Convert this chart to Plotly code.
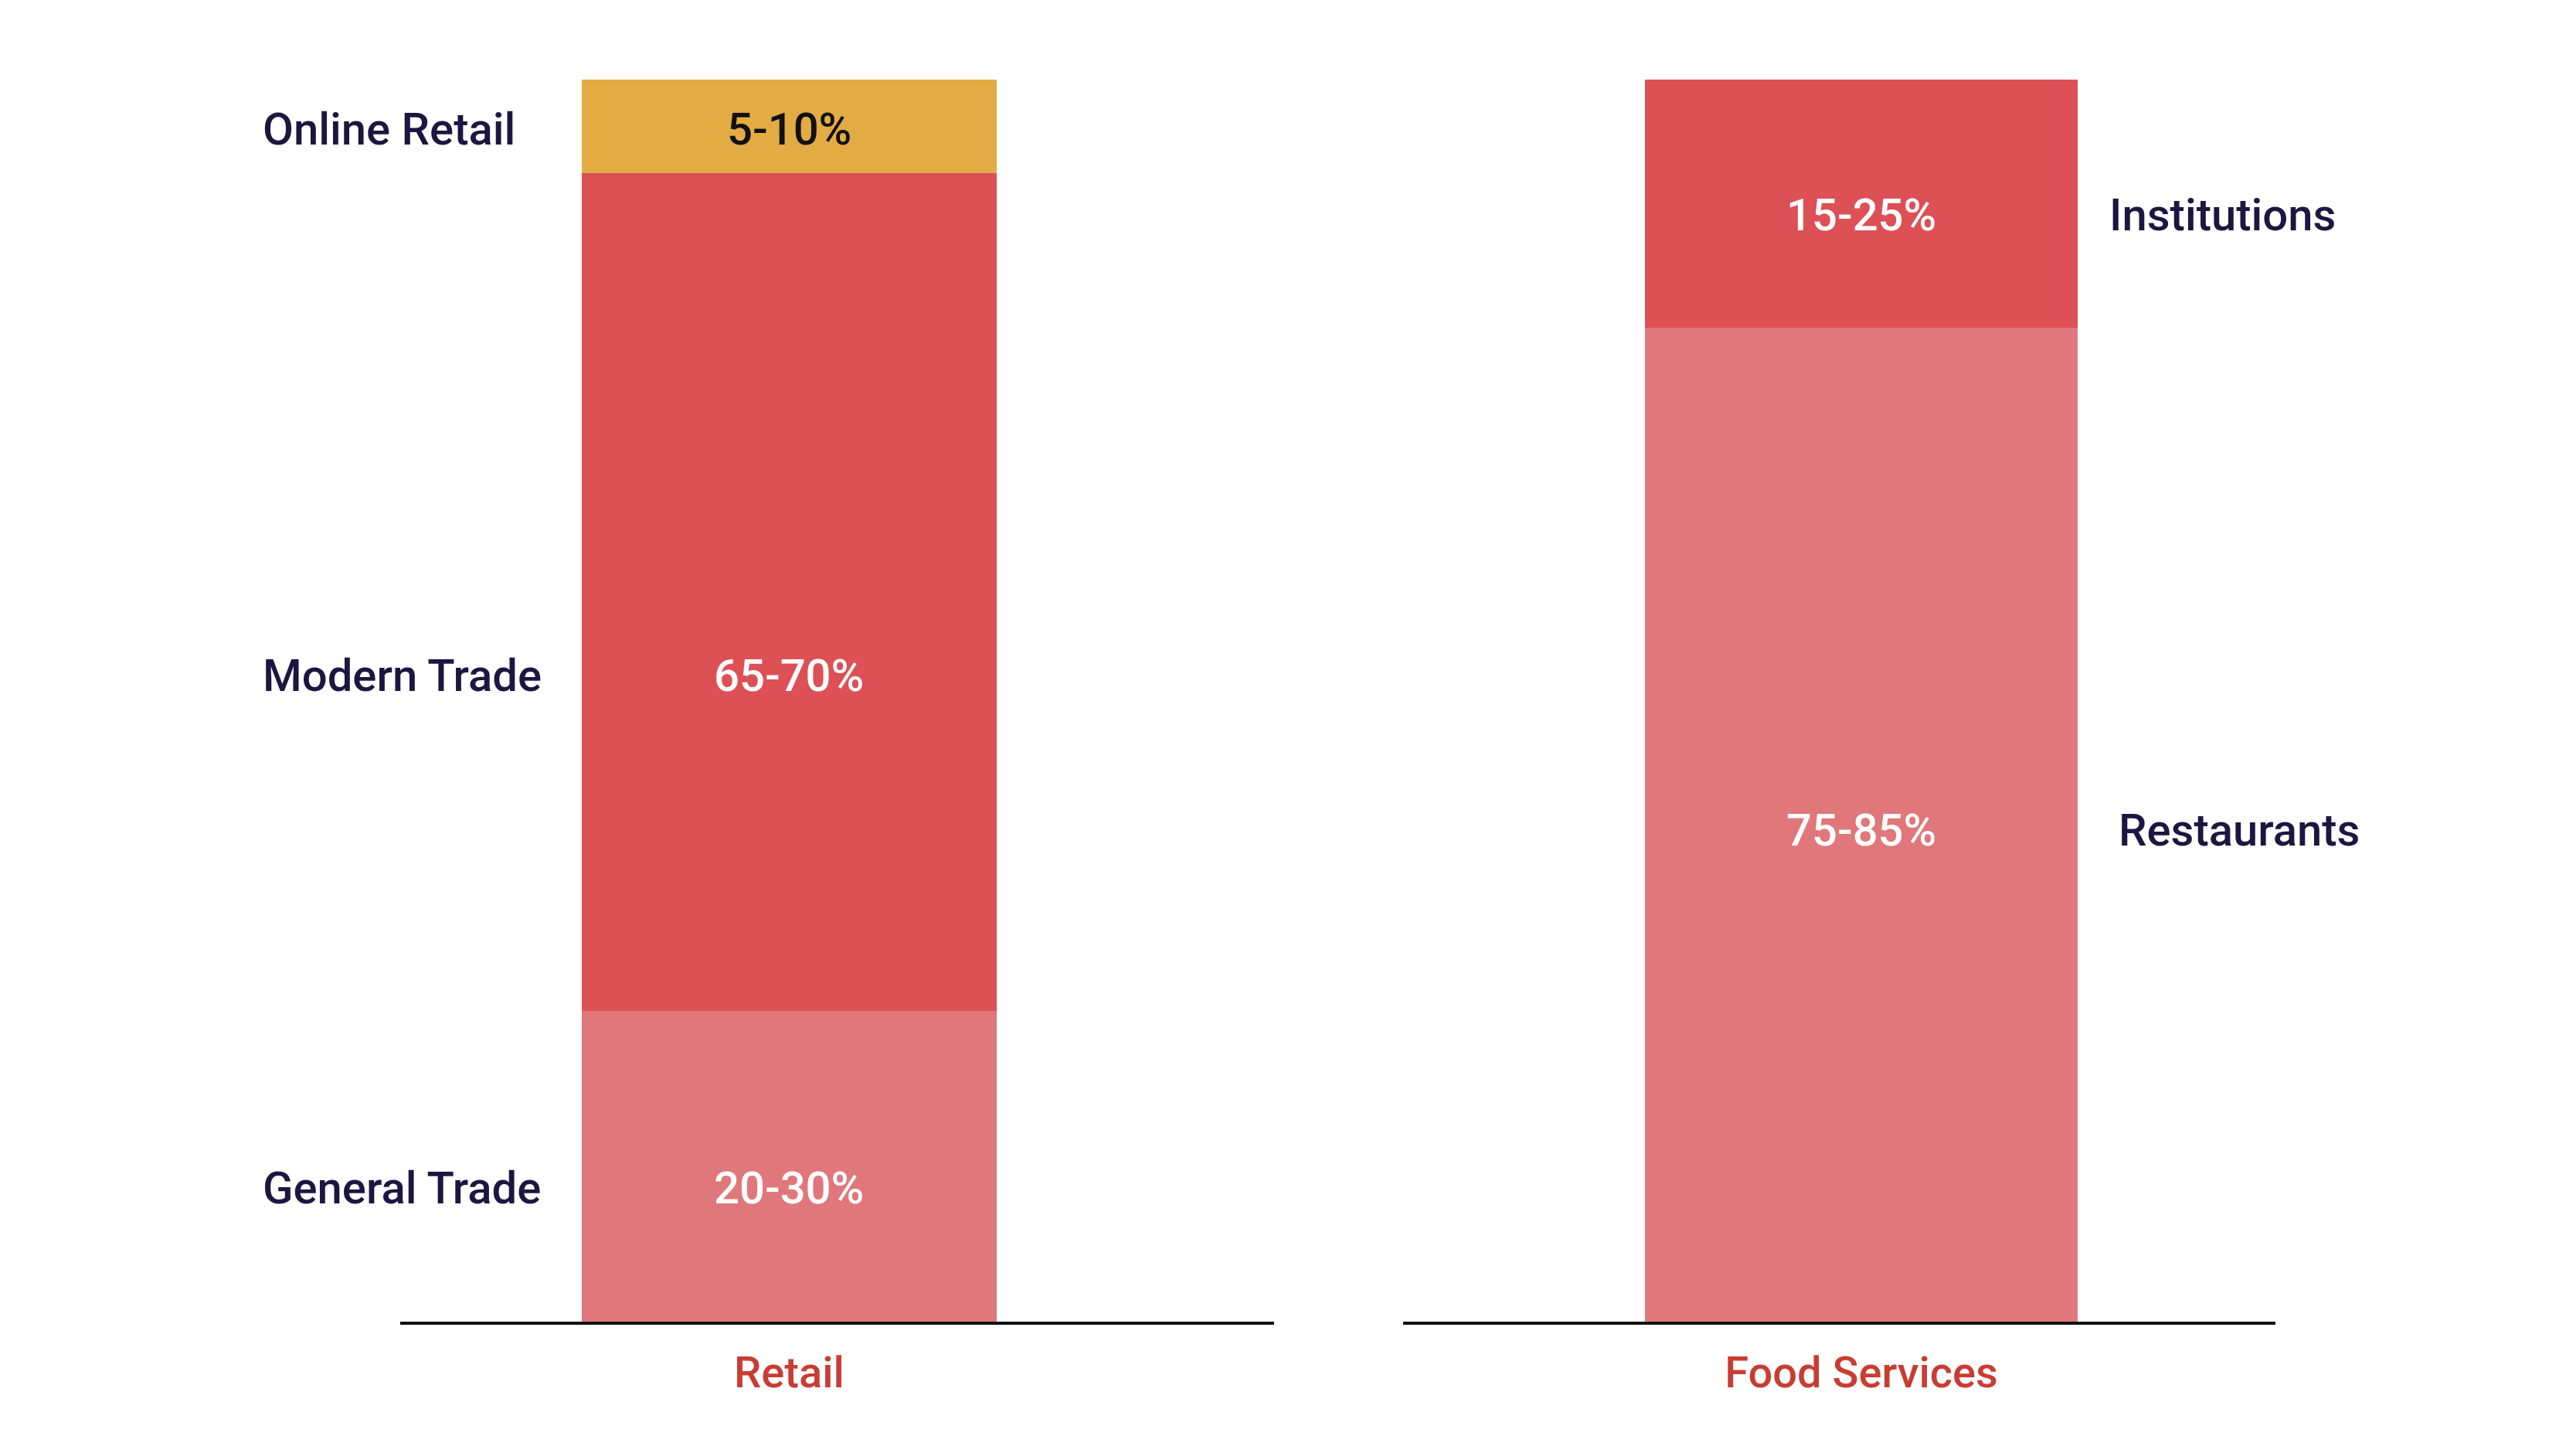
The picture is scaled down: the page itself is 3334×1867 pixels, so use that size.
import plotly.graph_objects as go

W, H = 3334, 1867
PAD = 8  # browser body margin around the plot div

# data (shares are the midpoints of the ranges printed on the bars)
categories = ["Retail", "Food Services"]

retail_segments = ["General Trade", "Modern Trade", "Online Retail"]
retail_share = [25, 67.5, 7.5]
retail_text = ["20-30%", "65-70%", "5-10%"]

food_segments = ["Restaurants", "Institutions"]
food_share = [80, 20]
food_text = ["75-85%", "15-25%"]

# styling
retail_colors = ["#E0777A", "#DC5056", "#E3AB44"]
food_colors = ["#E0777A", "#DC5056"]
retail_textcolors = ["white", "white", "#111111"]
food_textcolors = ["white", "white"]
# where the label sits inside each segment (0 = bottom, 1 = top)
retail_label_pos = [0.43, 0.40, 0.47]
food_label_pos = [0.495, 0.455]
# left edge of the side labels, in pixels
retail_side_x = [338, 338, 338]
food_side_x = [2740, 2728]

FONT = "Roboto"
NAVY = "#1C1640"
RED = "#C83D33"


def px(x):
    return (x - PAD) / W


fig = go.Figure()

for seg, val, col in zip(retail_segments, retail_share, retail_colors):
    fig.add_trace(go.Bar(x=[categories[0]], y=[val], name=seg, marker_color=col,
                         marker_line_width=0, width=1, xaxis="x", yaxis="y",
                         showlegend=False))
for seg, val, col in zip(food_segments, food_share, food_colors):
    fig.add_trace(go.Bar(x=[categories[1]], y=[val], name=seg, marker_color=col,
                         marker_line_width=0, width=1, xaxis="x2", yaxis="y2",
                         showlegend=False))

annotations = []


def add_labels(cat, segs, vals, texts, tcols, pos, xref, yref, side_xs):
    base = 0
    for seg, v, t, tc, p, sx in zip(segs, vals, texts, tcols, pos, side_xs):
        y = base + p * v
        annotations.append(dict(x=cat, y=y, xref=xref, yref=yref, text=t,
                                showarrow=False, xanchor="center", yanchor="middle",
                                font=dict(family=FONT, size=58, color=tc, weight=500)))
        annotations.append(dict(x=px(sx), y=y, xref="paper", yref=yref, text=seg,
                                showarrow=False, xanchor="left", yanchor="middle",
                                font=dict(family=FONT, size=58, color=NAVY, weight=500)))
        base += v


add_labels(categories[0], retail_segments, retail_share, retail_text,
           retail_textcolors, retail_label_pos, "x", "y", retail_side_x)
add_labels(categories[1], food_segments, food_share, food_text,
           food_textcolors, food_label_pos, "x2", "y2", food_side_x)

xaxis_common = dict(showline=True, linecolor="#111111", linewidth=4, ticks="",
                    showgrid=False, zeroline=False, fixedrange=True,
                    tickfont=dict(family=FONT, size=56, color=RED, weight=500),
                    ticklabelstandoff=14)
yaxis_common = dict(range=[0, 100], visible=False, showgrid=False, zeroline=False)

fig.update_layout(
    width=W, height=H,
    barmode="stack",
    paper_bgcolor="white", plot_bgcolor="white",
    margin=dict(l=0, r=0, t=103 - PAD, b=H + PAD - 1710),
    xaxis=dict(domain=[px(518), px(1649)], range=[-0.9376, 1.169], anchor="y", **xaxis_common),
    xaxis2=dict(domain=[px(1816), px(2945)], range=[-1.059, 0.957], anchor="y2", **xaxis_common),
    yaxis=dict(anchor="x", **yaxis_common),
    yaxis2=dict(anchor="x2", **yaxis_common),
    annotations=annotations,
)

fig.write_html("out.html")
